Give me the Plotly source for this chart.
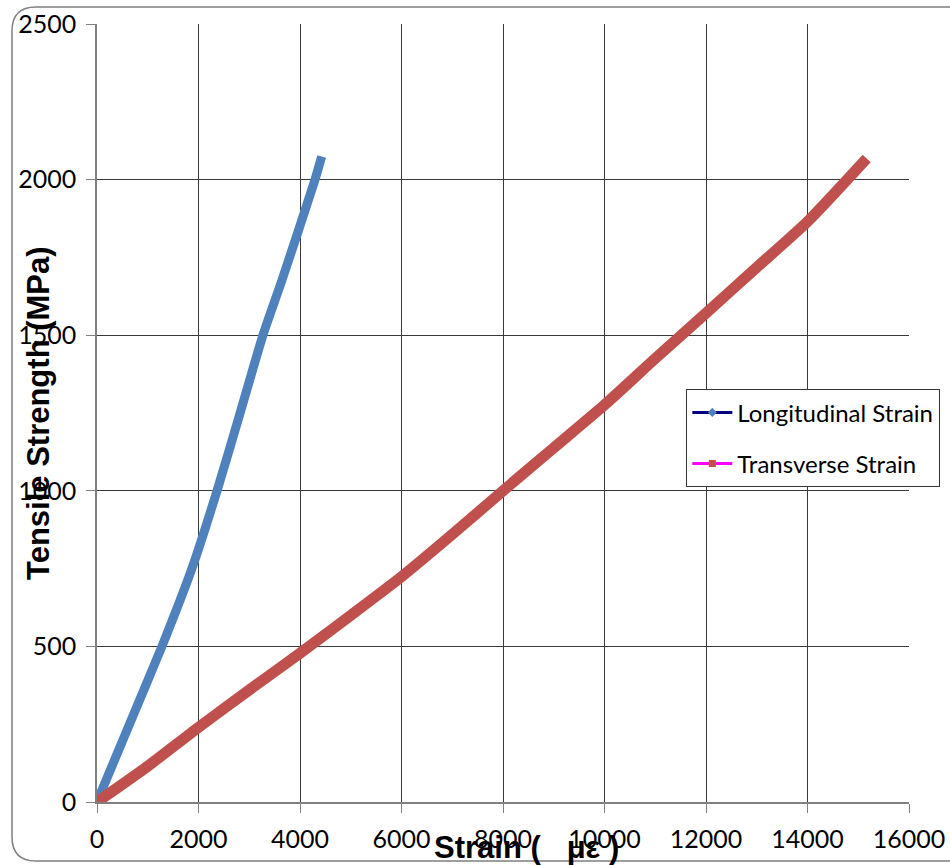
import plotly.graph_objects as go

# Longitudinal strain (με) vs tensile strength (MPa)
long_strain = [0, 640, 1280, 1870, 2365, 2820, 3270, 3645, 4296, 4427]
long_stress = [0, 250, 500, 750, 1000, 1250, 1500, 1677, 2000, 2074]

# Transverse strain (με) vs tensile strength (MPa)
trans_strain = [0, 1000, 2000, 3000, 4000, 5000, 6000, 7000, 8000, 9000, 10000,
                11000, 12000, 13000, 14000, 15166]
trans_stress = [0, 115, 240, 360, 478, 600, 724, 860, 1000, 1138, 1276,
                1425, 1571, 1718, 1865, 2068]

x_ticks = [0, 2000, 4000, 6000, 8000, 10000, 12000, 14000, 16000]
y_ticks = [0, 500, 1000, 1500, 2000, 2500]

W, H = 950, 865
ML, MR, MT, MB = 97, 41, 24, 63
PW, PH = W - ML - MR, H - MT - MB


def px(x):
    return (x - ML) / PW


def py(y):
    return (H - MB - y) / PH


fig = go.Figure()

fig.add_trace(go.Scatter(x=long_strain, y=long_stress, mode="lines",
                         line=dict(color="#4F81BD", width=9, shape="spline", smoothing=0.6),
                         showlegend=False, hoverinfo="skip"))
fig.add_trace(go.Scatter(x=trans_strain, y=trans_stress, mode="lines",
                         line=dict(color="#C0504D", width=11, shape="spline", smoothing=0.6),
                         showlegend=False, hoverinfo="skip"))

# legend-only entries
fig.add_trace(go.Scatter(x=[None], y=[None], mode="lines+markers",
                         name="Longitudinal Strain", legendgroup="a",
                         line=dict(color="#000080", width=3),
                         marker=dict(symbol="diamond", color="#4F81BD", size=7)))
fig.add_trace(go.Scatter(x=[None], y=[None], mode="lines+markers",
                         name="Transverse Strain", legendgroup="b",
                         line=dict(color="#FF00FF", width=3),
                         marker=dict(symbol="square", color="#C0504D", size=7)))

axis_font = dict(family="Lato, Open Sans, sans-serif", size=25, color="black")

fig.update_xaxes(range=[0, 16000], tickvals=x_ticks,
                 ticktext=[str(v) for v in x_ticks], automargin=False,
                 showgrid=True, gridcolor="#3a3a3a", gridwidth=1,
                 showline=True, linecolor="#808080", linewidth=1.5,
                 ticks="outside", ticklen=9, tickcolor="#808080",
                 tickfont=axis_font, zeroline=False, ticklabelstandoff=5)
fig.update_yaxes(range=[0, 2500], tickvals=y_ticks,
                 ticktext=[str(v) for v in y_ticks], automargin=False,
                 showgrid=True, gridcolor="#3a3a3a", gridwidth=1,
                 showline=True, linecolor="#808080", linewidth=1.5,
                 ticks="outside", ticklen=9, tickcolor="#808080",
                 tickfont=axis_font, zeroline=False, ticklabelstandoff=5)

L, R, T, B = px(12), px(970), py(7), py(861)
dx, dy = 24 / PW, 24 / PH
border = (f"M {L+dx},{T} L {R},{T} L {R},{B} L {L+dx},{B} "
          f"Q {L},{B} {L},{B+dy} L {L},{T-dy} Q {L},{T} {L+dx},{T} Z")

fig.update_layout(
    width=W, height=H,
    margin=dict(l=ML, r=MR, t=MT, b=MB, autoexpand=False),
    paper_bgcolor="white", plot_bgcolor="white",
    shapes=[dict(type="path", path=border, xref="paper", yref="paper",
                 line=dict(color="#7f7f7f", width=1.5), layer="below")],
    legend=dict(x=px(686), y=py(389), xanchor="left", yanchor="top",
                bgcolor="white", bordercolor="#333333", borderwidth=1.3,
                font=dict(family="Lato, Open Sans, sans-serif", size=24, color="black"),
                tracegroupgap=17, itemwidth=40),
    annotations=[
        dict(text="<b>Strain (   με )</b>", x=px(526), y=py(847),
             xref="paper", yref="paper", showarrow=False,
             xanchor="center", yanchor="middle",
             font=dict(family="Liberation Sans, Arial, sans-serif", size=31, color="black")),
        dict(text="<b>Tensile Strength (MPa)</b>", x=px(38), y=py(413),
             xref="paper", yref="paper", showarrow=False, textangle=-90,
             xanchor="center", yanchor="middle",
             font=dict(family="Liberation Sans, Arial, sans-serif", size=31, color="black")),
    ],
)

fig.write_html("out.html")
